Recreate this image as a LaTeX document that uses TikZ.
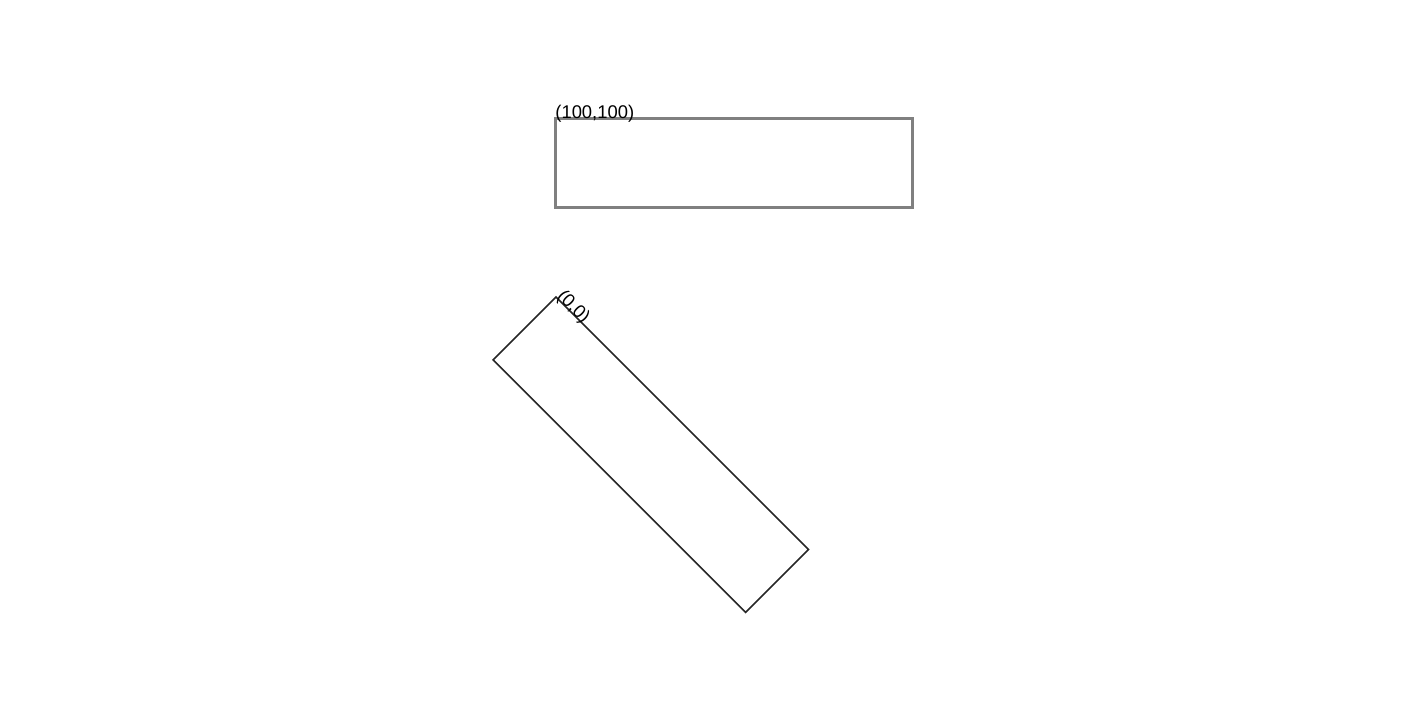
\documentclass[tikz,border=0pt]{standalone}
\usepackage{fontspec}
\setmainfont{Liberation Sans}
\begin{document}
\begin{tikzpicture}[x=0.5pt, y=-0.5pt, font=\fontsize{9.2}{11}\selectfont]
  \useasboundingbox (0,0) rectangle (1416,712);
  % plain frame
  \draw[gray, line width=1.5pt] (555,118) rectangle (912,207);
  \node[anchor=base west, inner sep=0pt] (lbltop) at (555,118) {(100,100)};
  % same frame, turned
  \begin{scope}[shift={(556,297)}, rotate=-45]
    \draw[black!85, line width=0.8pt] (0,0) rectangle (357,89);
    \node[anchor=base west, inner sep=0pt, transform shape] (lblturn) at (0,0) {(0,0)};
  \end{scope}
\end{tikzpicture}
\end{document}
